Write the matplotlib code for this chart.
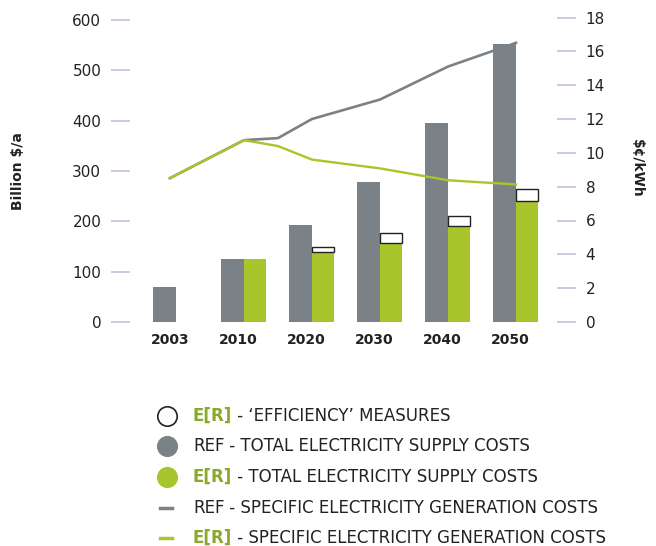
import matplotlib.pyplot as plt

# bar data (Billion $/a)
years = ["2003", "2010", "2020", "2030", "2040", "2050"]
ref_supply = [70, 125, 193, 278, 396, 553]
er_supply = [0, 125, 140, 156, 190, 240]
er_efficiency = [0, 0, 10, 21, 21, 25]

# line data ($ct/kWh)
line_years = ["2003", "2010", "2015", "2020", "2030", "2040", "2050"]
ref_specific = [8.5, 10.75, 10.87, 12.0, 13.15, 15.1, 16.5]
er_specific = [8.5, 10.75, 10.4, 9.6, 9.08, 8.38, 8.13]

GRAY = "#7b8287"
GREEN = "#a8c52b"
DARK_GREEN = "#8aa82a"
TICK = "#c5c8d8"
TXT = "#222222"

plt.rcParams['font.family'] = ['DejaVu Sans']

fig = plt.figure(figsize=(6.56, 5.46), dpi=100)
ax = fig.add_axes([130 / 656, 224 / 546, 427 / 656, 304.5 / 546])

x = list(range(len(years)))
ax.bar(x, ref_supply, width=-0.34, align='edge', color=GRAY, zorder=2)
ax.bar(x, er_supply, width=0.33, align='edge', color=GREEN, zorder=2)
for xi, base, eff in zip(x, er_supply, er_efficiency):
    if eff > 0:
        ax.bar(xi, eff, bottom=base, width=0.33, align='edge',
               facecolor='white', edgecolor='#222222', linewidth=1, zorder=3)

ax.set_xlim(-0.676, 5.603)
ax.set_ylim(0, 605)
ax.set_yticks(range(0, 601, 100))
ax.set_xticks([xi - 0.09 for xi in x])
ax.set_xticklabels(years, fontweight='bold', fontsize=10)
ax.tick_params(axis='x', length=0, pad=8, colors=TXT)
ax.tick_params(axis='y', length=13.7, width=1.3, color=TICK, pad=7,
               labelsize=11, labelcolor=TXT)
for s in ax.spines.values():
    s.set_visible(False)

ax2 = ax.twinx()
year_pos = {y: i for i, y in enumerate(years)}
line_x = []
for y in line_years:
    if y in year_pos:
        p = year_pos[y]
        line_x.append(p - 0.09 if y == "2003" else p)
    else:
        line_x.append(year_pos["2010"] + (int(y) - 2010) / 10)
ax2.plot(line_x, ref_specific, color=GRAY, linewidth=1.9, zorder=4)
ax2.plot(line_x, er_specific, color=GREEN, linewidth=1.7, zorder=5)
ax2.set_ylim(0, 18)
ax2.set_yticks(range(0, 19, 2))
ax2.tick_params(axis='y', length=13.7, width=1.3, color=TICK, pad=7,
                labelsize=11, labelcolor=TXT)
for s in ax2.spines.values():
    s.set_visible(False)

fig.text(18 / 656, 1 - 171 / 546, "Billion $/a", rotation=90, ha='center', va='center',
         fontweight='bold', fontsize=10, color=TXT)
fig.text(637 / 656, 1 - 168 / 546, "$¢/kWh", rotation=270, ha='center', va='center',
         fontweight='bold', fontsize=10, color=TXT)

# custom legend
rows = [
    ("o", "white", "E[R]", " - \u2018EFFICIENCY\u2019 MEASURES"),
    ("o", GRAY, "REF", " - TOTAL ELECTRICITY SUPPLY COSTS"),
    ("o", GREEN, "E[R]", " - TOTAL ELECTRICITY SUPPLY COSTS"),
    ("-", GRAY, "REF", " - SPECIFIC ELECTRICITY GENERATION COSTS"),
    ("-", GREEN, "E[R]", " - SPECIFIC ELECTRICITY GENERATION COSTS"),
]
row_y = [416, 446, 477, 508, 538]
for (kind, col, tag, rest), yy in zip(rows, row_y):
    fy = 1 - yy / 546
    if kind == "o":
        fig.lines.append(plt.Line2D([167 / 656], [fy], marker='o', markersize=14,
                                    markerfacecolor=col,
                                    markeredgecolor='#222222' if col == "white" else col,
                                    markeredgewidth=1.2, transform=fig.transFigure))
    else:
        fig.lines.append(plt.Line2D([160 / 656, 172 / 656], [fy, fy], color=col,
                                    linewidth=2.5, transform=fig.transFigure))
    is_er = tag == "E[R]"
    t = fig.text(193 / 656, fy, tag, ha='left', va='center', fontsize=12,
                 fontweight='bold' if is_er else 'normal',
                 color=DARK_GREEN if is_er else TXT)
    ax.annotate(rest, xy=(1, 0.5), xycoords=t, va='center', ha='left',
                fontsize=12, color=TXT, annotation_clip=False)

fig.savefig("out.png", dpi=100)
